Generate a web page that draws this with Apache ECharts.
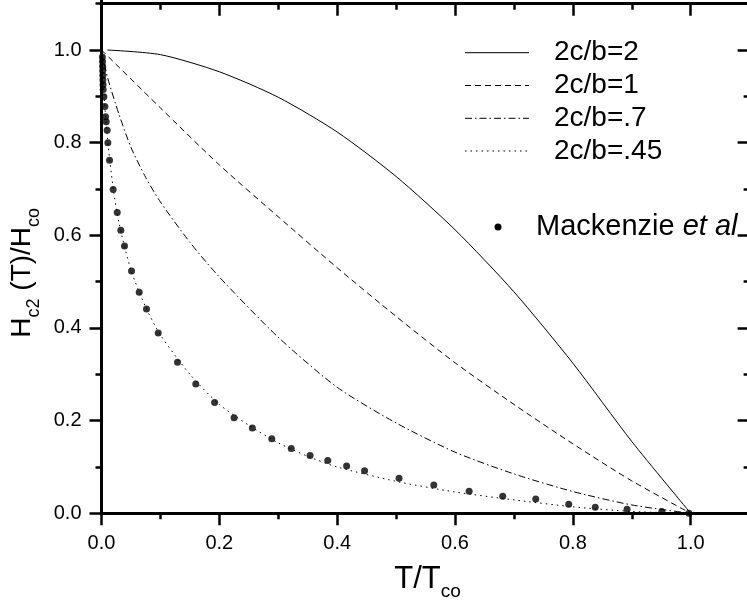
<!DOCTYPE html>
<html>
<head>
<meta charset="utf-8">
<script src="https://cdn.jsdelivr.net/npm/echarts@6/dist/echarts.min.js"></script>
<style>
html, body { margin: 0; padding: 0; background: #fff; }
#chart { width: 747px; height: 609px; }
</style>
</head>
<body>
<div id="chart"></div>
<script>
// curves: T/Tco -> Hc2(T)/Hco
const tSolid = [0.01, 0.1, 0.2, 0.3, 0.4, 0.5, 0.6, 0.7, 0.8, 0.9, 1.0];
const vSolid = [1.0, 0.99, 0.953, 0.898, 0.823, 0.727, 0.612, 0.478, 0.324, 0.155, 0.0];

const tDash = [0, 0.1, 0.2, 0.3, 0.4, 0.5, 0.6, 0.7, 0.8, 0.9, 1.0];
const vDash = [1.0, 0.875, 0.752, 0.64, 0.53, 0.425, 0.325, 0.235, 0.15, 0.07, 0.0];

const tDashDot = [0, 0.01, 0.03, 0.05, 0.075, 0.1, 0.15, 0.2, 0.3, 0.4, 0.5, 0.6, 0.7, 0.8, 0.9, 1.0];
const vDashDot = [1.0, 0.942, 0.86, 0.79, 0.725, 0.672, 0.585, 0.51, 0.38, 0.272, 0.195, 0.132, 0.085, 0.047, 0.018, 0.0];

const tDot = [0, 0.002, 0.005, 0.01, 0.02, 0.03, 0.05, 0.075, 0.1, 0.15, 0.2, 0.25, 0.3, 0.35, 0.4, 0.5, 0.6, 0.7, 0.8, 0.9, 1.0];
const vDot = [1.0, 0.95, 0.89, 0.81, 0.70, 0.625, 0.525, 0.445, 0.385, 0.3, 0.235, 0.19, 0.152, 0.123, 0.1, 0.069, 0.046, 0.029, 0.014, 0.004, 0.0];

// Mackenzie et al data points
const tMack = [0.0015, 0.0017, 0.0019, 0.002, 0.0022, 0.0024, 0.0026, 0.0028, 0.004, 0.0057, 0.0068, 0.008, 0.0096, 0.0108, 0.0136, 0.0198,
  0.0267, 0.0328, 0.039, 0.051, 0.064, 0.0764, 0.0963, 0.129, 0.160, 0.192, 0.225, 0.256, 0.289, 0.322, 0.354, 0.384, 0.416, 0.4465,
  0.505, 0.564, 0.624, 0.681, 0.737, 0.793, 0.838, 0.892, 0.951, 0.997];
const vMack = [0.985, 0.975, 0.965, 0.955, 0.945, 0.935, 0.925, 0.915, 0.899, 0.878, 0.856, 0.845, 0.827, 0.80, 0.762, 0.699,
  0.649, 0.611, 0.577, 0.523, 0.477, 0.441, 0.389, 0.326, 0.279, 0.239, 0.206, 0.184, 0.161, 0.140, 0.125, 0.114, 0.102, 0.092,
  0.0756, 0.061, 0.0475, 0.0367, 0.031, 0.0194, 0.013, 0.0086, 0.004, 0.0];

const lineNames = ['2c/b=2', '2c/b=1', '2c/b=.7', '2c/b=.45'];
const lineDashes = ['solid', [6, 4], [7, 3, 1.5, 3], [1.5, 4]];
const mackName = 'Mackenzie et al';

const FONT = '"Liberation Sans", Arial, sans-serif';

function zip(xs, ys) {
    return xs.map((x, i) => [x, ys[i]]);
}

const curves = [zip(tSolid, vSolid), zip(tDash, vDash), zip(tDashDot, vDashDot), zip(tDot, vDot)];

let chart = echarts.init(document.getElementById('chart'));

// plot box: x 0..1.1 spans 101.5..750.7, y 0..1.1 spans 513.3..3.7
// the grid runs to 1.2 so the 1.1 frame sits on a minor tick
const px = 589.2, py = 463.3;

let series = lineNames.map((name, i) => ({
    name: name,
    type: 'line',
    data: curves[i],
    smooth: 0.25,
    showSymbol: false,
    silent: true,
    lineStyle: {color: '#000', width: 1, type: lineDashes[i]}
}));
series.push({
    name: mackName,
    type: 'scatter',
    data: zip(tMack, vMack),
    symbolSize: 7,
    itemStyle: {color: '#000'},
    silent: true
});

let legendGraphics = [];
const rowY = [52.7, 85.5, 118.3, 151];
lineNames.forEach((name, i) => {
    legendGraphics.push({
        type: 'line',
        shape: {x1: 465, y1: rowY[i], x2: 529, y2: rowY[i]},
        style: {stroke: '#000', lineWidth: 1, lineDash: lineDashes[i] === 'solid' ? null : lineDashes[i]}
    });
    legendGraphics.push({
        type: 'text',
        x: 554, y: rowY[i],
        style: {text: name, fontSize: 28, fontFamily: FONT, fill: '#000', verticalAlign: 'middle'}
    });
});
legendGraphics.push({
    type: 'circle',
    shape: {cx: 498, cy: 227, r: 3.5},
    style: {fill: '#000'}
});
legendGraphics.push({
    type: 'text',
    x: 536, y: 227,
    style: {
        text: '{n|Mackenzie }{i|et al}',
        verticalAlign: 'middle',
        rich: {
            n: {fontSize: 29, fontFamily: FONT, fill: '#000'},
            i: {fontSize: 29, fontFamily: FONT, fill: '#000', fontStyle: 'italic'}
        }
    }
});

const xNameRich = {
    m: {fontSize: 31, fontFamily: FONT, color: '#000', lineHeight: 31},
    s: {fontSize: 19, fontFamily: FONT, color: '#000', lineHeight: 19, padding: [24, 0, 0, 0]}
};
const yNameRich = {
    m: {fontSize: 28, fontFamily: FONT, color: '#000', lineHeight: 28},
    s: {fontSize: 18, fontFamily: FONT, color: '#000', lineHeight: 18, padding: [24, 0, 0, 0]}
};

let option = {
    animation: false,
    backgroundColor: '#fff',
    grid: {
        left: 101.5, top: 513.3 - 1.2 * py, width: 1.2 * px, height: 1.2 * py,
        containLabel: false, outerBoundsMode: 'none'
    },
    xAxis: [{
        type: 'value', position: 'bottom', min: 0, max: 1.2, interval: 0.2,
        axisLine: {show: true, onZero: false, lineStyle: {color: '#000', width: 3}},
        axisTick: {show: true, inside: false, length: 12, lineStyle: {color: '#000', width: 2.5}},
        minorTick: {show: true, splitNumber: 2, length: 6, lineStyle: {color: '#000', width: 2.5}},
        splitLine: {show: false},
        axisLabel: {color: '#000', fontSize: 20, fontFamily: FONT, margin: 20, formatter: v => v.toFixed(1)},
        name: '{m|T/T}{s|co}',
        nameLocation: 'middle',
        nameGap: 45,
        nameTextStyle: {rich: xNameRich, padding: [0, 55, 0, 0]}
    }, {
        type: 'value', position: 'top', min: 0, max: 1.2, interval: 0.2,
        offset: -(1.2 - 1.1) * py,
        axisLine: {show: true, onZero: false, lineStyle: {color: '#000', width: 3}},
        axisTick: {show: true, inside: true, length: 12, lineStyle: {color: '#000', width: 2.5}},
        minorTick: {show: true, splitNumber: 2, length: 6, lineStyle: {color: '#000', width: 2.5}},
        splitLine: {show: false},
        axisLabel: {show: false}
    }],
    yAxis: [{
        type: 'value', position: 'left', min: 0, max: 1.2, interval: 0.2,
        axisLine: {show: true, onZero: false, lineStyle: {color: '#000', width: 3}},
        axisTick: {show: true, inside: false, length: 12, lineStyle: {color: '#000', width: 2.5}},
        minorTick: {show: true, splitNumber: 2, length: 6, lineStyle: {color: '#000', width: 2.5}},
        splitLine: {show: false},
        axisLabel: {color: '#000', fontSize: 20, fontFamily: FONT, margin: 20, formatter: v => v.toFixed(1)},
        name: '{m|H}{s|c2}{m| (T)/H}{s|co}',
        nameLocation: 'middle',
        nameGap: 56,
        nameTextStyle: {rich: yNameRich, padding: [0, 75, 0, 0]}
    }, {
        type: 'value', position: 'right', min: 0, max: 1.2, interval: 0.2,
        offset: -(1.2 - 1.1) * px,
        axisLine: {show: true, onZero: false, lineStyle: {color: '#000', width: 3}},
        axisTick: {show: true, inside: true, length: 12, lineStyle: {color: '#000', width: 2.5}},
        minorTick: {show: true, splitNumber: 2, length: 6, lineStyle: {color: '#000', width: 2.5}},
        splitLine: {show: false},
        axisLabel: {show: false}
    }],
    graphic: legendGraphics,
    series: series
};

chart.setOption(option);
</script>
</body>
</html>
